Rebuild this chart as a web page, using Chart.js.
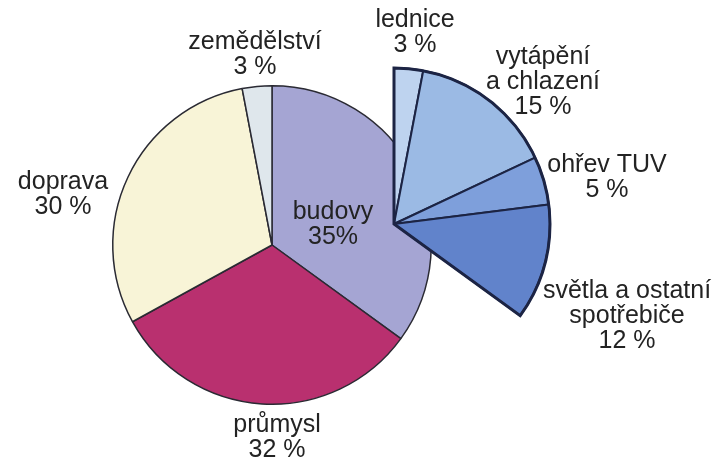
<!DOCTYPE html>
<html lang="cs">
<head>
<meta charset="utf-8">
<title>Spotřeba energie podle sektorů</title>
<script src="https://cdn.jsdelivr.net/npm/chart.js@4/dist/chart.umd.min.js"></script>
<style>
  html, body { margin: 0; padding: 0; background: #ffffff; }
  #wrap { position: relative; width: 728px; height: 461px; }
  #wrap canvas { position: absolute; left: 0; top: 0; }
</style>
</head>
<body>
<div id="wrap">
  <canvas id="sectors" width="728" height="461"></canvas>
  <canvas id="buildings" width="728" height="461"></canvas>
</div>
<script>
// Sectors of final energy consumption (%)
const sectorNames = ['budovy', 'průmysl', 'doprava', 'zemědělství'];
const sectorValues = [35, 32, 30, 3];
const sectorPctSep = ['', ' ', ' ', ' '];

// Breakdown of the "budovy" sector (% of total)
const buildingNames = ['lednice', 'vytápění\na chlazení', 'ohřev TUV', 'světla a ostatní\nspotřebiče'];
const buildingValues = [3, 15, 5, 12];

// Styling
const sectorColors = ['#a5a5d3', '#b9306f', '#f8f4d7', '#dfe7ec'];
const buildingColors = ['#bed3ef', '#9bbae4', '#7e9fdb', '#6183cb'];
const FONT = '25px "Liberation Sans", Arial, sans-serif';
const TEXT = '#232323';

// Label anchor points (centre of the first text line)
const sectorLabelPos = [[333, 212], [277, 425], [63, 182], [255, 42]];
const buildingLabelPos = [[415, 20], [543, 57], [607, 165], [627, 291]];

function drawLabels(ctx, lines, positions) {
  ctx.save();
  ctx.font = FONT;
  ctx.fillStyle = TEXT;
  ctx.textAlign = 'center';
  ctx.textBaseline = 'middle';
  lines.forEach((ls, i) => {
    ls.forEach((t, j) => ctx.fillText(t, positions[i][0], positions[i][1] + j * 25));
  });
  ctx.restore();
}

const sectorLines = sectorNames.map((n, i) => [n, sectorValues[i] + sectorPctSep[i] + '%']);
const buildingLines = buildingNames.map((n, i) => [...n.split('\n'), buildingValues[i] + ' %']);

const common = {
  responsive: false,
  animation: false,
  events: [],
  plugins: { legend: { display: false }, tooltip: { enabled: false } }
};

// Main pie
new Chart(document.getElementById('sectors'), {
  type: 'pie',
  data: {
    labels: sectorNames,
    datasets: [{
      data: sectorValues,
      backgroundColor: sectorColors,
      borderColor: '#2a2a33',
      borderWidth: 1.5
    }]
  },
  options: {
    ...common,
    layout: { padding: { left: 112, right: 296, top: 85, bottom: 56 } }
  },
  plugins: [{
    id: 'sectorLabels',
    afterDraw(chart) { drawLabels(chart.ctx, sectorLines, sectorLabelPos); }
  }]
});

// Exploded breakdown of buildings; the remainder of the circle stays empty
const remainder = sectorValues.reduce((a, b) => a + b, 0) - buildingValues.reduce((a, b) => a + b, 0);
new Chart(document.getElementById('buildings'), {
  type: 'pie',
  data: {
    labels: [...buildingNames, ''],
    datasets: [{
      data: [...buildingValues, remainder],
      backgroundColor: [...buildingColors, 'rgba(0,0,0,0)'],
      borderColor: '#1c2444',
      borderWidth: [2, 2, 2, 2, 0],
      radius: 156
    }]
  },
  options: {
    ...common,
    layout: { padding: { left: 238, right: 178, top: 68, bottom: 81 } }
  },
  plugins: [{
    id: 'groupOutline',
    afterDatasetsDraw(chart) {
      const arcs = chart.getDatasetMeta(0).data;
      const first = arcs[0], last = arcs[buildingValues.length - 1];
      const ctx = chart.ctx;
      ctx.save();
      ctx.beginPath();
      ctx.moveTo(first.x, first.y);
      ctx.arc(first.x, first.y, first.outerRadius, first.startAngle, last.endAngle);
      ctx.closePath();
      ctx.lineWidth = 3;
      ctx.lineJoin = 'miter';
      ctx.strokeStyle = '#1c2444';
      ctx.stroke();
      ctx.restore();
    },
    afterDraw(chart) { drawLabels(chart.ctx, buildingLines, buildingLabelPos); }
  }]
});
</script>
</body>
</html>
